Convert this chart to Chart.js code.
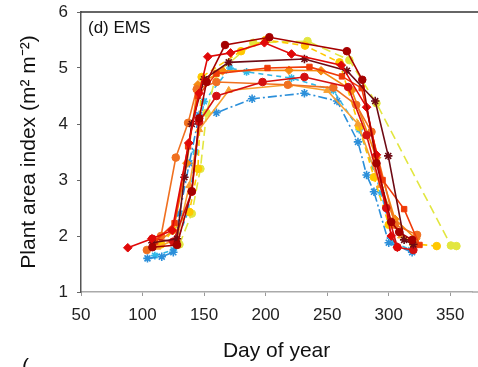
<!DOCTYPE html>
<html>
<head>
<meta charset="utf-8">
<script src="https://cdn.jsdelivr.net/npm/chart.js@4.4.1/dist/chart.umd.min.js"></script>
<style>
html,body{margin:0;padding:0;background:#fff;}
#wrap{width:478px;height:367px;position:relative;}
</style>
</head>
<body>
<div id="wrap"><canvas id="c" width="478" height="367"></canvas></div>
<script>
// ---- data (day of year, plant area index) ----
const xTicks = [50, 100, 150, 200, 250, 300, 350];
const yTicks = [1, 2, 3, 4, 5, 6];
const panelLabel = "(d) EMS";
const xTitle = "Day of year";
const yTitle = "Plant area index (m² m⁻²)";

const sA_day = [108, 128, 140, 146, 152, 167, 203, 266, 278.5, 290, 302, 308.5, 319];
const sA_pai = [1.80, 1.84, 2.80, 4.10, 4.75, 5.41, 5.55, 5.30, 4.79, 3.30, 2.25, 2.07, 1.93];

const sB_day = [88, 107.5, 124, 137.5, 146, 153, 171.5, 199, 221, 261.5, 282, 290, 302, 307];
const sB_pai = [1.79, 1.95, 2.10, 3.66, 4.55, 5.20, 5.27, 5.45, 5.25, 5.05, 4.30, 3.45, 2.00, 1.80];

const sC_day = [108, 128, 134, 140, 150, 170, 231.5, 266, 289, 299.6, 312.5, 320];
const sC_pai = [1.88, 1.95, 3.05, 4.00, 4.80, 5.10, 5.16, 4.95, 4.41, 3.43, 1.93, 1.85];

const sD_day = [110, 126, 137, 145, 160, 201.5, 235.6, 262, 278, 295, 312.5, 325];
const sD_pai = [1.90, 2.23, 3.60, 4.50, 4.90, 5.00, 5.02, 4.85, 4.64, 3.00, 2.48, 1.84];

const sE_day = [108, 125, 140, 146, 160, 197.5, 231.5, 267, 282, 298, 307, 320];
const sE_pai = [1.95, 1.90, 2.79, 4.04, 4.50, 4.75, 4.84, 4.66, 3.80, 2.50, 1.80, 1.75];

const sF_day = [103.5, 115, 127, 137, 144, 160, 218, 255, 273.6, 286, 305, 323];
const sF_pai = [1.75, 2.00, 3.40, 4.02, 4.62, 4.75, 4.70, 4.65, 4.34, 3.86, 2.20, 2.02];

const sG_day = [112, 128, 138, 146, 170, 219, 250, 275, 293, 310, 322];
const sG_pai = [1.80, 1.95, 2.90, 3.90, 4.60, 4.70, 4.60, 4.00, 2.90, 2.00, 1.85];

const sH_day = [110, 125, 136, 145, 165, 219, 245, 270, 290, 305, 322];
const sH_pai = [1.85, 2.10, 3.30, 4.70, 4.95, 4.96, 4.95, 4.60, 3.40, 2.30, 1.95];

const sI_day = [115, 138, 145, 148, 180, 200, 232, 260, 276, 288, 300, 320, 339];
const sI_pai = [1.85, 2.43, 3.20, 4.84, 5.30, 5.50, 5.40, 5.10, 3.95, 3.05, 2.20, 1.86, 1.82];

const sJ_day = [130, 140, 147, 152, 160, 190, 234, 268, 290, 350.5, 355];
const sJ_pai = [1.85, 2.40, 3.20, 4.20, 4.90, 5.45, 5.48, 5.14, 4.37, 1.83, 1.82];

const sK_day = [104, 115.6, 125, 130, 138, 146, 160, 189, 231.5, 258, 275, 282, 288, 300, 319];
const sK_pai = [1.60, 1.63, 1.71, 2.40, 3.30, 4.16, 4.20, 4.45, 4.55, 4.41, 3.68, 3.09, 2.79, 1.88, 1.71];

const sL_day = [110, 125, 137, 143, 150, 171, 184.5, 221, 255, 276, 294, 303, 318];
const sL_pai = [1.65, 1.75, 2.43, 3.50, 4.40, 5.00, 4.93, 4.82, 4.60, 3.90, 2.77, 1.90, 1.75];

function pts(d, v) { return d.map((x, i) => ({x: x, y: v[i]})); }

function ds(d, v, color, style, dash, r) {
  return {
    data: pts(d, v),
    borderColor: color,
    backgroundColor: color,
    pointBackgroundColor: color,
    pointBorderColor: color,
    pointStyle: style,
    pointRadius: r || 3.8,
    pointBorderWidth: style === 'star' ? 1.6 : 1,
    borderWidth: 1.6,
    borderDash: dash || [],
    tension: 0,
    fill: false,
    clip: false
  };
}

const datasets = [
  ds(sA_day, sA_pai, '#A50000', 'circle'),
  ds(sB_day, sB_pai, '#E00808', 'rectRot', null, 4.3),
  ds(sC_day, sC_pai, '#6E0A14', 'star', null, 4.2),
  ds(sD_day, sD_pai, '#F03A08', 'rect', null, 3.8),
  ds(sE_day, sE_pai, '#D41010', 'circle'),
  ds(sF_day, sF_pai, '#F07020', 'circle'),
  ds(sG_day, sG_pai, '#F8A030', 'triangle', null, 4),
  ds(sH_day, sH_pai, '#F58A10', 'rectRot', null, 4.3),
  ds(sI_day, sI_pai, '#FFC800', 'circle', [6, 4]),
  ds(sJ_day, sJ_pai, '#E2E640', 'circle', [9, 5]),
  ds(sK_day, sK_pai, '#2B8FDA', 'star', [9, 3, 2, 3], 4.2),
  ds(sL_day, sL_pai, '#30B8E8', 'star', [5, 4], 3.8)
];

const FONT = 'Arial, "Liberation Sans", sans-serif';

const extras = {
  id: 'extras',
  afterDraw(chart) {
    const ctx = chart.ctx;
    const a = chart.chartArea;
    ctx.save();
    // top frame line (runs to the cropped right edge)
    ctx.strokeStyle = '#333';
    ctx.lineWidth = 1.5;
    ctx.beginPath();
    ctx.moveTo(a.left, a.top);
    ctx.lineTo(chart.width, a.top);
    ctx.stroke();
    // bottom axis continues to the cropped right edge
    ctx.strokeStyle = '#aaa';
    ctx.beginPath();
    ctx.moveTo(a.right, a.bottom);
    ctx.lineTo(chart.width, a.bottom);
    ctx.stroke();
    // panel label
    ctx.fillStyle = '#111';
    ctx.font = '17px ' + FONT;
    ctx.textAlign = 'left';
    ctx.textBaseline = 'middle';
    ctx.fillText(panelLabel, a.left + 7, a.top + 16);
    // partial next-panel label at bottom
    ctx.font = '21px ' + FONT;
    ctx.textBaseline = 'alphabetic';
    ctx.fillText('(', 22, 373);
    ctx.restore();
  }
};

new Chart(document.getElementById('c'), {
  type: 'line',
  data: { datasets: datasets },
  plugins: [extras],
  options: {
    responsive: false,
    animation: false,
    layout: { padding: 0 },
    plugins: { legend: { display: false }, tooltip: { enabled: false } },
    scales: {
      x: {
        type: 'linear',
        min: 50,
        max: 367.8,
        afterBuildTicks: (s) => { s.ticks = xTicks.map(v => ({value: v})); },
        afterFit: (s) => { s.height = 75; s.paddingLeft = 0; s.paddingRight = 0; },
        ticks: { font: { size: 17, family: FONT }, color: '#222', padding: 9, maxRotation: 0 },
        grid: { drawOnChartArea: false, drawTicks: true, tickLength: 4, color: '#999' },
        border: { color: '#aaa', width: 1.5 },
        title: { display: true, text: xTitle, font: { size: 21, family: FONT }, color: '#111', padding: { top: 0, bottom: 3 } }
      },
      y: {
        type: 'linear',
        min: 1,
        max: 6,
        afterBuildTicks: (s) => { s.ticks = yTicks.map(v => ({value: v})); },
        afterFit: (s) => { s.width = 81; s.paddingTop = 12; s.paddingBottom = 0; },
        ticks: { font: { size: 17, family: FONT }, color: '#222', padding: 9 },
        grid: { drawOnChartArea: false, drawTicks: true, tickLength: 4, color: '#666' },
        border: { color: '#555', width: 1.5 },
        title: { display: true, text: yTitle, font: { size: 21, family: FONT }, color: '#111', padding: { top: 17, bottom: 0 } }
      }
    }
  }
});
</script>
</body>
</html>
